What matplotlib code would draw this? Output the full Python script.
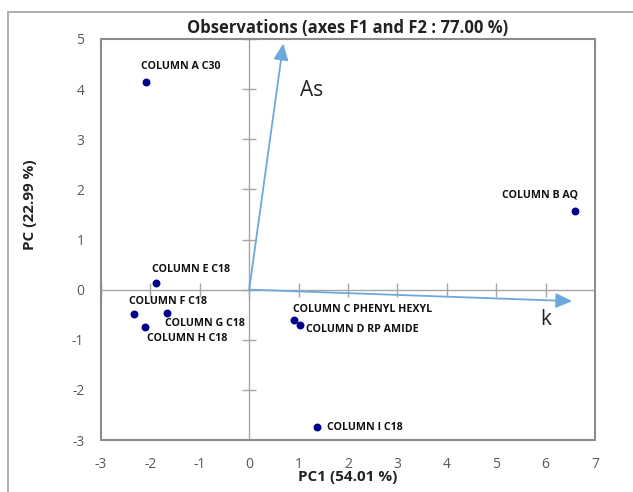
import matplotlib
matplotlib.use("Agg")
import matplotlib.pyplot as plt
from matplotlib.patches import Rectangle

names = ["COLUMN A C30", "COLUMN B AQ", "COLUMN E C18", "COLUMN F C18", "COLUMN G C18",
         "COLUMN H C18", "COLUMN C PHENYL HEXYL", "COLUMN D RP AMIDE", "COLUMN I C18"]
pc1 = [-2.09, 6.60, -1.88, -2.33, -1.66, -2.10, 0.91, 1.03, 1.38]
pc2 = [4.15, 1.57, 0.13, -0.49, -0.47, -0.75, -0.61, -0.71, -2.75]
# label offsets in pixels (dx, dy) and alignment
offsets = [(-5, 15, "left"), (3, 16, "right"), (-4, 14, "left"), (-5, 13, "left"),
           (-2, -10, "left"), (2, -11, "left"), (-1, 11, "left"), (6, -4, "left"), (10, 0, "left")]

var_names = ["As", "k"]
var_x = [0.69, 6.54]
var_y = [4.91, -0.23]

xticks = list(range(-3, 8))
yticks = list(range(-3, 6))

plt.rcParams['font.family'] = ['Open Sans', 'DejaVu Sans']
plt.rcParams['axes.unicode_minus'] = False

fig = plt.figure(figsize=(6.33, 4.92), dpi=100)
fig.patches.append(Rectangle((8/633, -0.1), 1, 1.1 - 12/492, transform=fig.transFigure,
                             fill=False, edgecolor="#a0a0a0", linewidth=1.2, clip_on=False))
ax = fig.add_axes([101/633, 1 - 440/492, (595 - 101)/633, (440 - 39)/492])

ax.set_xlim(-3, 7)
ax.set_ylim(-3, 5)
ax.set_xticks(xticks)
ax.set_yticks(yticks)
ax.tick_params(length=0, labelsize=10, labelcolor="#595959", pad=12)
for s in ax.spines.values():
    s.set_color("#8c8c8c")
    s.set_linewidth(1.5)

ax.axhline(0, color="#a6a6a6", lw=1, zorder=1)
ax.axvline(0, color="#a6a6a6", lw=1, zorder=1)
ax.plot([0] * len(yticks), yticks, ls="none", marker="_", ms=10, color="#a6a6a6", mew=1, zorder=1)
ax.plot(xticks, [0] * len(xticks), ls="none", marker="|", ms=10, color="#a6a6a6", mew=1, zorder=1)

ax.scatter(pc1, pc2, s=22, color="#00008b", zorder=4)
for n, x, y, (dx, dy, ha) in zip(names, pc1, pc2, offsets):
    ax.annotate(n, (x, y), xytext=(dx, dy), textcoords="offset pixels", ha=ha, va="center",
                fontsize=7.7, fontweight="bold", color="#111111", zorder=5)

for n, x, y in zip(var_names, var_x, var_y):
    ax.annotate("", xy=(x, y), xytext=(0, 0),
                arrowprops=dict(arrowstyle="-|>,head_length=1.0,head_width=0.45",
                                color="#6fa8dc", lw=1.3, shrinkA=0, shrinkB=0), zorder=3)
ax.text(1.03, 3.97, "As", fontsize=15, color="#222222", va="center", ha="left")
ax.text(5.9, -0.6, "k", fontsize=15, color="#222222", va="center", ha="left")

fig.text(348/633, 1 - 28/492, "Observations (axes F1 and F2 : 77.00 %)", ha="center", va="center",
         fontsize=12, fontweight="bold", color="#222222")
fig.text(348/633, 1 - 477/492, "PC1 (54.01 %)", ha="center", va="center",
         fontsize=11, fontweight="bold", color="#222222")
fig.text(30/633, 1 - 205/492, "PC (22.99 %)", ha="center", va="center", rotation=90,
         fontsize=11, fontweight="bold", color="#222222")

fig.savefig("out.png", dpi=100)
